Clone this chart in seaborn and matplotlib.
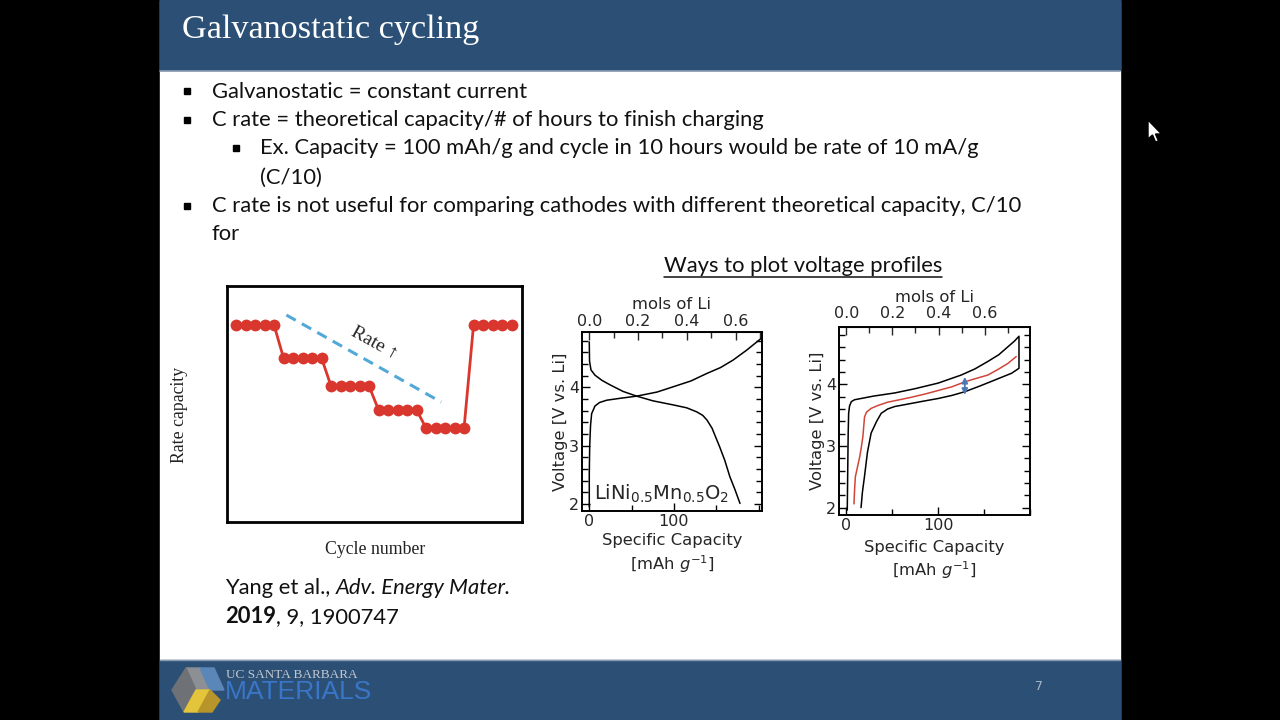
import matplotlib
matplotlib.use("Agg")
import matplotlib.pyplot as plt
import seaborn as sns
from matplotlib.patches import Rectangle, Polygon
from matplotlib.ticker import MultipleLocator

# ---------------- data ----------------
cycle_number = [1, 2, 3, 4, 5, 6, 7, 8, 9, 10, 11, 12, 13, 14, 15,
                16, 17, 18, 19, 20, 21, 22, 23, 24, 25, 26, 27, 28, 29, 30]
rate_capacity = [0.835, 0.835, 0.835, 0.835, 0.835,
                 0.695, 0.695, 0.695, 0.695, 0.695,
                 0.576, 0.576, 0.576, 0.576, 0.576,
                 0.475, 0.475, 0.475, 0.475, 0.475,
                 0.398, 0.398, 0.398, 0.398, 0.398,
                 0.835, 0.835, 0.835, 0.835, 0.835]
rate_guide_cycle = [6.3, 22.6]
rate_guide_capacity = [0.877, 0.508]

mid_charge_capacity = [0, 0, 0.5, 1.5, 2.8, 6.7, 12, 20.5, 35, 56, 80, 99, 120, 139, 155, 170, 186, 203]
mid_charge_voltage = [1.95, 2.5, 3.0, 3.35, 3.55, 3.68, 3.74, 3.78, 3.81, 3.85, 3.92, 4.01, 4.11, 4.24, 4.34, 4.47, 4.64, 4.84]
mid_discharge_capacity = [0, 0.3, 2, 6.7, 15, 25, 40, 56, 75, 99, 115, 127, 134, 139, 145, 154, 160, 166, 172, 178]
mid_discharge_voltage = [4.78, 4.45, 4.30, 4.21, 4.12, 4.04, 3.93, 3.85, 3.77, 3.70, 3.65, 3.58, 3.52, 3.44, 3.30, 2.98, 2.75, 2.47, 2.25, 2.01]
mid_capacity_per_mol = 288.0

right_loop_capacity = [1, 1.5, 2, 2.5, 3.5, 5.5, 9, 16, 30, 52.7, 75, 100, 125, 140, 154, 166, 176, 183, 188,
                       188, 180, 170, 161.7, 145, 129, 115, 100, 85, 70.7, 60, 52.7, 45, 38, 33, 27, 23, 19.8, 17.5, 16]
right_loop_voltage = [1.96, 2.6, 3.2, 3.53, 3.65, 3.72, 3.75, 3.77, 3.81, 3.86, 3.93, 4.02, 4.15, 4.25, 4.37, 4.48, 4.61, 4.70, 4.78,
                      4.26, 4.18, 4.12, 4.07, 3.97, 3.88, 3.82, 3.77, 3.73, 3.69, 3.66, 3.64, 3.60, 3.53, 3.40, 3.21, 2.90, 2.51, 2.25, 2.0]
right_mid_capacity = [8.3, 9, 9.8, 12, 14.5, 16, 18, 19.8, 22, 27, 35, 45, 58, 70.7, 85, 100, 115, 129, 140, 154, 165, 176, 185]
right_mid_voltage = [2.06, 2.3, 2.5, 2.65, 2.82, 2.95, 3.15, 3.47, 3.55, 3.61, 3.66, 3.71, 3.75, 3.79, 3.84, 3.90, 3.96, 4.04, 4.09, 4.15, 4.24, 4.34, 4.45]
right_capacity_per_mol = 251.0
gap_arrow_capacity = 129
gap_arrow_voltage = [3.975, 4.12, 3.83]

bullet_lines = ["Galvanostatic = constant current",
                "C rate = theoretical capacity/# of hours to finish charging",
                "Ex. Capacity = 100 mAh/g and cycle in 10 hours would be rate of 10 mA/g",
                "(C/10)",
                "C rate is not useful for comparing cathodes with different theoretical capacity, C/10",
                "for"]

# ---------------- style ----------------
sns.set_style("ticks")
plt.rcParams['font.family'] = ['DejaVu Sans']
plt.rcParams['mathtext.fontset'] = 'dejavusans'

BODY = ['Lato', 'DejaVu Sans']
SERIF = ['Liberation Serif', 'DejaVu Serif']
NAVY = '#2C4F76'
BODY_SIZE = 15.8

fig = plt.figure(figsize=(12.8, 7.2), dpi=100, facecolor='black')
bg = fig.add_axes([0, 0, 1, 1])
bg.set_xlim(0, 1280)
bg.set_ylim(720, 0)
bg.axis('off')
bg.add_patch(Rectangle((160, 0), 960, 720, color='white', zorder=0))
bg.add_patch(Rectangle((160, 0), 960, 70, color=NAVY, zorder=1))
bg.plot([160, 1120], [70.5, 70.5], color='#8A9BB0', lw=1.2, zorder=2)
bg.add_patch(Rectangle((160, 660), 960, 60, color=NAVY, zorder=1))
bg.plot([160, 1120], [659.5, 659.5], color='#8A9BB0', lw=1.0, zorder=2)

bg.text(182, 30, "Galvanostatic cycling", color='white', fontsize=24.7,
        family=SERIF, va='center', ha='left')

# bullets
bullet_x = [212, 212, 260, 260, 212, 212]
bullet_y = [90, 119, 147, 176, 205, 233]
bullet_mark = [187, 187, 236, None, 187, None]
for txt, x, y, m in zip(bullet_lines, bullet_x, bullet_y, bullet_mark):
    bg.text(x, y + 7.5, txt, fontsize=BODY_SIZE, family=BODY, va='baseline', ha='left',
            color='#111111')
    if m is not None:
        bg.plot([m], [y + 1], marker='s', markersize=4.8, color='black')

# section title
renderer = fig.canvas.get_renderer()
t = bg.text(803, 265.5, "Ways to plot voltage profiles", fontsize=BODY_SIZE, family=BODY,
            ha='center', va='center', color='#111111')
bb = t.get_window_extent(renderer)
bg.plot([bb.x0, bb.x1], [277, 277], color='#111111', lw=1.1)

# citation (rich text)
def rich(x, y, parts):
    for s, kw, gap in parts:
        tt = bg.text(x, y, s, fontsize=BODY_SIZE, family=BODY, va='baseline', ha='left',
                     color='#111111', **kw)
        x += tt.get_window_extent(renderer).width + gap

rich(225, 594.5, [("Yang et al.,", {}, 5.5), ("Adv. Energy Mater.", {'style': 'italic'}, 0)])
rich(225, 623, [("2019", {'weight': 'bold'}, 0), (", 9, 1900747", {}, 0)])

# footer
bg.text(1039, 686, "7", color='#A9B6C6', fontsize=9, ha='center', va='center')
bg.text(226, 675, "UC SANTA BARBARA", color='#C2C7CE', fontsize=9.5, family=SERIF,
        ha='left', va='center')
bg.text(225, 692, "MATERIALS", color='#3C7DD6', fontsize=19, family=['Liberation Sans'],
        ha='left', va='center', alpha=0.85)
bg.add_patch(Polygon([(186, 668), (200, 668), (210, 690), (196, 690)], color='#8C8F94', zorder=3))
bg.add_patch(Polygon([(172, 690), (186, 668), (196, 690), (184, 712)], color='#6E7277', zorder=3))
bg.add_patch(Polygon([(200, 668), (214, 668), (224, 690), (210, 690)], color='#5B86B8', zorder=3))
bg.add_patch(Polygon([(184, 712), (196, 690), (210, 690), (198, 712)], color='#E4C43A', zorder=3))
bg.add_patch(Polygon([(198, 712), (210, 690), (220, 700), (212, 712)], color='#B8952A', zorder=3))

# cursor
bg.add_patch(Polygon([(1148, 120), (1148, 139), (1152.5, 135), (1155.5, 142), (1158.5, 141),
                      (1155.5, 134), (1161.5, 134)], facecolor='white', edgecolor='black',
                     lw=1, zorder=5))


def fig_rect(x0, y0, x1, y1):
    return [x0 / 1280, 1 - y1 / 720, (x1 - x0) / 1280, (y1 - y0) / 720]

# ---------------- rate capacity panel ----------------
ax1 = fig.add_axes(fig_rect(227, 286, 522, 522))
sns.lineplot(x=cycle_number, y=rate_capacity, ax=ax1, color='#D9372E', lw=2,
             marker='o', markersize=8.5, markeredgewidth=0, sort=False, estimator=None)
ax1.plot(rate_guide_cycle, rate_guide_capacity, color='#52A8D6', lw=2.2,
         linestyle=(0, (3.5, 2.3)))
ax1.text(15.6, 0.758, "Rate ↑", rotation=-29, ha='center', va='center', fontsize=14,
         family=SERIF, rotation_mode='anchor')
ax1.set_xlim(0.05, 31.1)
ax1.set_ylim(0, 1)
ax1.set_xticks([])
ax1.set_yticks([])
for s in ax1.spines.values():
    s.set_linewidth(2)
    s.set_color('black')
bg.text(180, 415, "Rate capacity", rotation=90, ha='center', va='center', fontsize=12.8,
        family=SERIF, color='#222222')
bg.text(375, 550, "Cycle number", ha='center', va='center', fontsize=12.8,
        family=SERIF, color='#222222')


def style_voltage_axes(ax, per_mol, xlim, ylim, xlabelpad, toppad):
    ax.set_xlim(*xlim)
    ax.set_ylim(*ylim)
    ax.set_xticks([0, 100])
    ax.xaxis.set_minor_locator(MultipleLocator(50))
    ax.set_yticks([2, 3, 4])
    ax.yaxis.set_minor_locator(MultipleLocator(0.2))
    ax.tick_params(which='both', direction='in', right=True, top=False, labelsize=11.5,
                   pad=2, width=1, color='black')
    ax.tick_params(which='major', length=6)
    ax.tick_params(which='minor', length=4)
    for s in ax.spines.values():
        s.set_linewidth(1.4)
        s.set_color('black')
    ax.set_ylabel("Voltage [V vs. Li]", fontsize=11.8, labelpad=1)
    ax.set_xlabel("Specific Capacity\n[mAh $g^{-1}$]", fontsize=11.8, labelpad=xlabelpad,
                  linespacing=1.3)
    sec = ax.secondary_xaxis('top', functions=(lambda c: c / per_mol, lambda m: m * per_mol))
    sec.set_xticks([0.0, 0.2, 0.4, 0.6])
    sec.xaxis.set_minor_locator(MultipleLocator(0.1))
    sec.tick_params(which='both', direction='in', labelsize=11.5, pad=toppad, width=1)
    sec.tick_params(which='major', length=6)
    sec.tick_params(which='minor', length=4)
    sec.set_xlabel("mols of Li", fontsize=11.8, labelpad=3)
    return sec

# ---------------- middle panel ----------------
ax2 = fig.add_axes(fig_rect(582, 332, 762, 511))
sns.lineplot(x=mid_charge_capacity, y=mid_charge_voltage, ax=ax2, color='black', lw=1.1,
             sort=False, estimator=None)
sns.lineplot(x=mid_discharge_capacity, y=mid_discharge_voltage, ax=ax2, color='black', lw=1.1,
             sort=False, estimator=None)
style_voltage_axes(ax2, mid_capacity_per_mol, (-8.6, 204), (1.88, 4.95), 3, 2.5)
ax2.text(5, 2.08, r"LiNi$_{0.5}$Mn$_{0.5}$O$_2$", fontsize=14, ha='left', va='baseline')

# ---------------- right panel ----------------
ax3 = fig.add_axes(fig_rect(839, 327, 1030, 515))
sns.lineplot(x=right_loop_capacity, y=right_loop_voltage, ax=ax3, color='black', lw=1.1,
             sort=False, estimator=None)
sns.lineplot(x=right_mid_capacity, y=right_mid_voltage, ax=ax3, color='#D0453A', lw=1.1,
             sort=False, estimator=None)
style_voltage_axes(ax3, right_capacity_per_mol, (-8, 200), (1.88, 4.93), 5, 4)
for tgt in gap_arrow_voltage[1:]:
    ax3.annotate('', xy=(gap_arrow_capacity, tgt), xytext=(gap_arrow_capacity, gap_arrow_voltage[0]),
                 arrowprops=dict(arrowstyle='-|>', color='#4A78B5', lw=1.2, mutation_scale=9,
                                 shrinkA=0, shrinkB=0))

fig.savefig("out.png", dpi=100, facecolor='black')
